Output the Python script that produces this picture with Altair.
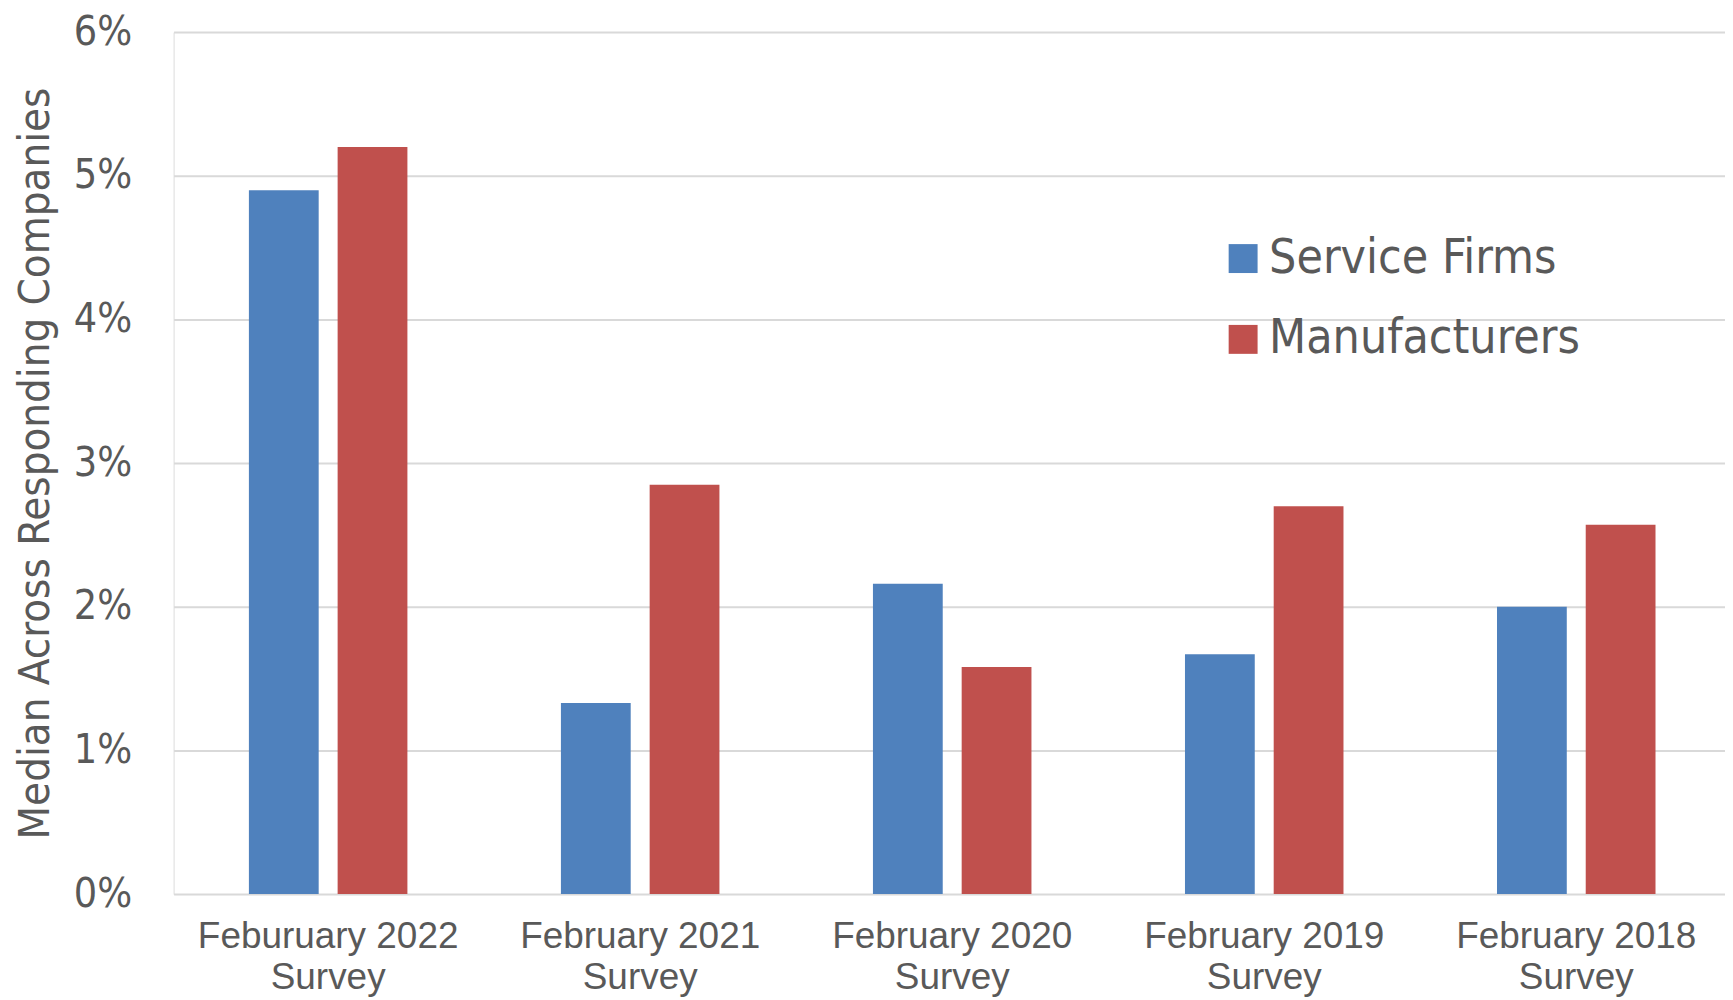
import altair as alt
import pandas as pd

categories = ["Feburuary 2022 Survey", "February 2021 Survey", "February 2020 Survey",
              "February 2019 Survey", "February 2018 Survey"]
series_names = ["Service Firms", "Manufacturers"]
service_firms = [4.9, 1.33, 2.16, 1.67, 2.0]
manufacturers = [5.2, 2.85, 1.58, 2.70, 2.57]
y_ticks = [0, 1, 2, 3, 4, 5, 6]
colors = ["#4F81BD", "#C0504D"]

rows = []
for c, s, m in zip(categories, service_firms, manufacturers):
    rows.append({"survey": c, "series": series_names[0], "value": s})
    rows.append({"survey": c, "series": series_names[1], "value": m})
df = pd.DataFrame(rows)

NARROW = "'Liberation Sans Narrow', 'Arial Narrow', 'DejaVu Sans Condensed', sans-serif"
GREY = "#595959"

chart = alt.Chart(df).mark_bar().encode(
    x=alt.X(
        "survey:N", sort=categories,
        scale=alt.Scale(paddingInner=0.492, paddingOuter=0.232, align=0.52),
        axis=alt.Axis(
            title=None, labelAngle=0,
            labelExpr="[replace(datum.label, ' Survey', ''), 'Survey']",
            labelFont="Liberation Sans", labelFontSize=37, labelLineHeight=41,
            labelColor=GREY, labelPadding=25, ticks=False, domain=False,
            labelBaseline="top", grid=False, labelLimit=0,
        ),
    ),
    xOffset=alt.XOffset("series:N", sort=series_names,
                        scale=alt.Scale(domain=series_names, paddingInner=0.2135, paddingOuter=0)),
    y=alt.Y(
        "value:Q",
        scale=alt.Scale(domain=[0, 6], nice=False),
        axis=alt.Axis(
            values=y_ticks, title="Median Across Responding Companies",
            labelExpr="datum.value + '%'",
            labelFont=NARROW, labelFontSize=41, labelColor=GREY, labelPadding=42,
            titleFont=NARROW, titleFontSize=43.5, titleFontWeight="normal", titleColor=GREY,
            titlePadding=16, ticks=False, domain=False, labelLimit=0,
            grid=True, gridColor="#D9D9D9", gridWidth=2,
        ),
    ),
    color=alt.Color(
        "series:N", sort=series_names,
        scale=alt.Scale(domain=series_names, range=colors),
        legend=alt.Legend(
            title=None, orient="none", legendX=1048, legendY=203,
            symbolType="square", symbolSize=841, symbolStrokeWidth=0,
            labelFont=NARROW, labelFontSize=48, labelColor=GREY,
            rowPadding=33, labelOffset=2, padding=0, labelLimit=0,
        ),
    ),
).properties(
    width=1555, height=864,
    padding={"left": 5, "top": 2, "right": 0, "bottom": 0},
).configure_view(stroke=None).configure(background="white")

chart.save("out.html", embed_options={"renderer": "svg", "actions": False})
